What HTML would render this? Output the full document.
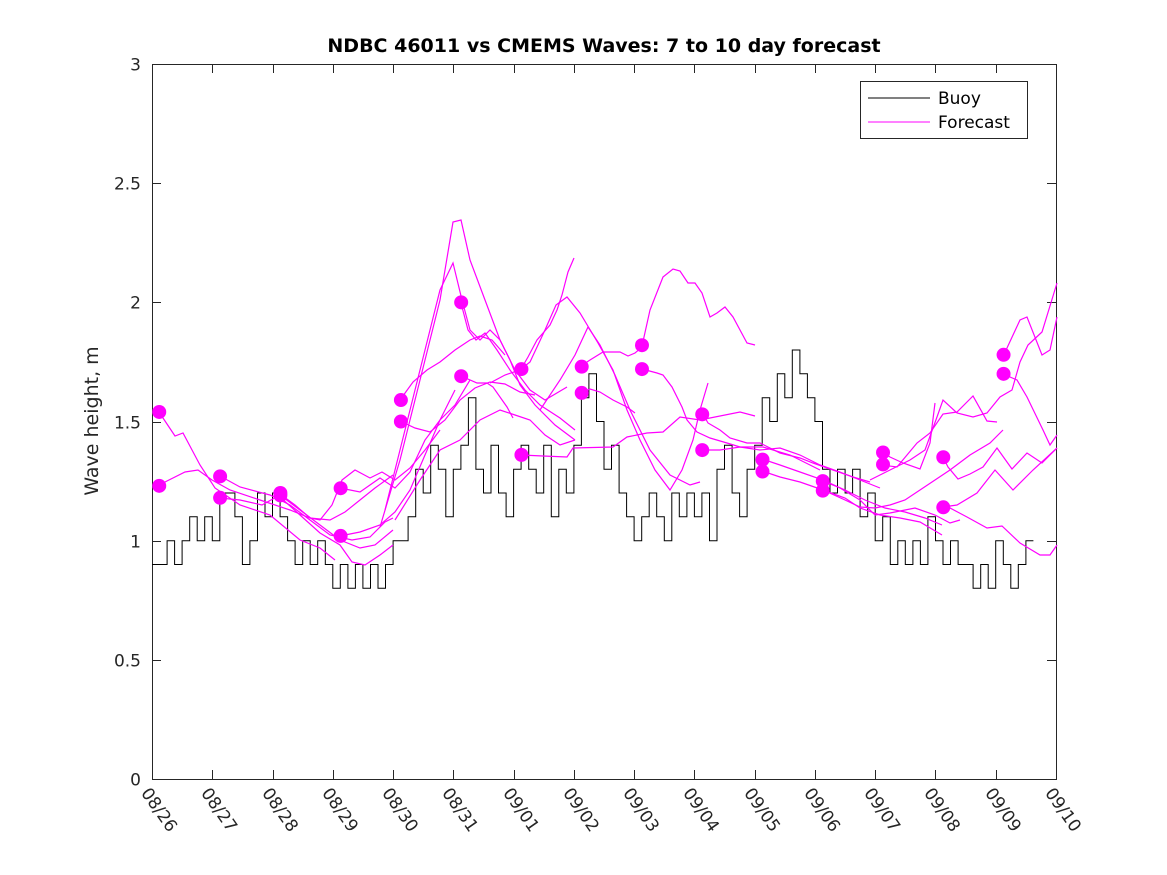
<!DOCTYPE html>
<html><head><meta charset="utf-8"><style>
body{margin:0;background:#fff;}
svg{display:block;font-family:"DejaVu Sans","Liberation Sans",sans-serif;}
</style></head><body>
<svg id="chart" width="1167" height="875" viewBox="0 0 1167 875">
<rect x="0" y="0" width="1167" height="875" fill="#fff"/>
<text x="604" y="52" text-anchor="middle" font-size="19" font-weight="bold" fill="#000">NDBC 46011 vs CMEMS Waves: 7 to 10 day forecast</text>
<text transform="translate(98,421) rotate(-90)" text-anchor="middle" font-size="19" fill="#262626">Wave height, m</text>
<g id="plot"></g>
<g id="legend">
<rect x="860.5" y="81.5" width="167" height="57" fill="#fff" stroke="#262626" stroke-width="1"/>
<line x1="868" y1="98" x2="930" y2="98" stroke="#000" stroke-width="1"/>
<text x="938" y="104" font-size="17" fill="#000">Buoy</text>
<line x1="868" y1="122" x2="930" y2="122" stroke="#f0f" stroke-width="1"/>
<text x="938" y="128" font-size="17" fill="#000">Forecast</text>
</g>
</svg>
<script>
const xTickLabels=["08/26","08/27","08/28","08/29","08/30","08/31","09/01","09/02","09/03","09/04","09/05","09/06","09/07","09/08","09/09","09/10"];
const yTicks=[0,0.5,1,1.5,2,2.5,3];
const yTickLabels=["0","0.5","1","1.5","2","2.5","3"];
// buoy, 3-hourly from 08/26 00:00
const buoy=[0.9,0.9,1.0,0.9,1.0,1.1,1.0,1.1,
1.0,1.2,1.2,1.1,0.9,1.0,1.2,1.1,
1.2,1.1,1.0,0.9,1.0,0.9,1.0,0.9,
0.8,0.9,0.8,0.9,0.8,0.9,0.8,0.9,
1.0,1.0,1.1,1.3,1.2,1.4,1.3,1.1,
1.3,1.4,1.6,1.3,1.2,1.4,1.2,1.1,
1.3,1.4,1.3,1.2,1.4,1.1,1.3,1.2,
1.4,1.6,1.7,1.5,1.3,1.4,1.2,1.1,
1.0,1.1,1.2,1.1,1.0,1.2,1.1,1.2,
1.1,1.2,1.0,1.3,1.4,1.2,1.1,1.3,
1.4,1.6,1.5,1.7,1.6,1.8,1.7,1.6,
1.5,1.3,1.2,1.3,1.2,1.3,1.1,1.2,
1.0,1.1,0.9,1.0,0.9,1.0,0.9,1.1,
1.0,0.9,1.0,0.9,0.9,0.8,0.9,0.8,
1.0,0.9,0.8,0.9,1.0];
const dotDays=[0.12,0.12,1.13,1.13,2.13,2.13,3.13,3.13,4.13,4.13,5.13,5.13,6.13,6.13,7.13,7.13,8.13,8.13,9.13,9.13,10.13,10.13,11.13,11.13,12.13,12.13,13.13,13.13,14.13,14.13];
const dotValues=[1.54,1.23,1.27,1.18,1.19,1.20,1.22,1.02,1.59,1.50,2.00,1.69,1.72,1.36,1.73,1.62,1.82,1.72,1.53,1.38,1.34,1.29,1.25,1.21,1.37,1.32,1.35,1.14,1.78,1.70];
const fcPix=[
[[159,412],[175,436],[183,433],[200,465],[215,488],[240,505],[270,515],[300,540],[320,548],[335,560]],
[[159,485],[185,472],[198,470],[212,480],[230,490],[260,500],[290,510],[310,518],[330,520],[345,512],[360,500],[375,488],[393,475]],
[[220,476],[240,487],[270,495],[290,505],[310,520],[330,535],[352,540],[370,537],[385,522],[393,518]],
[[220,498],[240,500],[262,505],[280,495],[300,510],[320,525],[340,540],[360,548],[375,545],[393,530]],
[[280,494],[295,505],[310,518],[320,520],[332,505],[342,480],[355,470],[370,478],[382,472],[395,480],[410,468],[425,450],[440,430]],
[[280,497],[300,515],[320,533],[340,545],[352,562],[365,565],[380,555],[393,545]],
[[340,488],[360,492],[380,478],[395,488],[410,472],[425,440],[440,420],[455,405],[470,380]],
[[340,536],[360,532],[380,525],[395,512],[410,490],[425,455],[440,420],[455,390]],
[[400,400],[413,382],[427,370],[440,362],[455,350],[470,340],[480,336],[492,340],[505,355]],
[[400,421],[415,428],[430,432],[445,420],[460,400],[475,388],[490,382],[505,384],[520,392],[535,395]],
[[380,527],[400,460],[420,380],[440,300],[453,222],[461,220],[470,260],[485,300],[500,340],[515,370],[530,390],[545,400],[567,387]],
[[385,510],[400,450],[420,370],[440,290],[453,263],[462,300],[470,330],[480,340],[490,330],[500,340],[510,360],[520,385],[535,405],[555,425],[575,440]],
[[461,303],[468,330],[476,340],[485,333],[497,350],[510,370],[525,390],[540,405],[560,418],[575,430]],
[[461,376],[477,383],[487,383],[493,387],[507,407],[513,418]],
[[395,520],[420,480],[440,450],[460,440],[480,420],[500,410],[515,415],[530,420],[545,435],[560,445],[575,440]],
[[521,369],[528,357],[537,340],[550,325],[557,310],[562,295],[568,272],[574,258]],
[[521,455],[543,456],[567,457],[573,448],[613,447],[627,437],[647,433],[663,432],[680,417],[700,420],[740,412],[755,416]],
[[490,383],[505,375],[520,370],[530,362],[545,330],[556,305],[567,297],[580,313],[598,343],[613,370],[627,410],[640,440],[655,470],[670,490],[682,470],[693,440],[700,410],[708,383]],
[[540,410],[560,380],[575,355],[588,327],[600,345],[615,375],[630,410],[650,450],[670,475],[690,485],[700,482]],
[[581,366],[590,360],[603,352],[620,352],[628,356],[635,353],[642,347]],
[[581,393],[590,389],[600,392],[613,400],[627,407],[635,413]],
[[642,346],[650,310],[663,277],[673,269],[680,271],[688,283],[695,283],[702,293],[710,317],[717,313],[725,307],[733,317],[747,343],[755,345]],
[[642,369],[657,373],[663,375],[672,387],[682,407],[687,420],[697,432],[710,438],[727,443],[740,447],[763,447],[790,455],[820,470]],
[[703,414],[708,423],[720,430],[730,438],[747,443],[760,443],[780,453],[800,458],[813,463],[833,470],[853,477],[870,482]],
[[703,450],[720,450],[740,447],[760,450],[780,448],[800,455],[820,465],[840,472],[860,480],[880,488]],
[[762,459],[780,465],[800,472],[823,480],[845,490],[865,500],[885,508],[905,512],[925,518],[942,525]],
[[762,471],[780,477],[800,482],[823,490],[845,498],[860,508],[880,515],[900,518],[920,522],[942,535]],
[[823,481],[840,488],[860,500],[875,515],[890,513],[915,508],[935,515],[950,523],[960,520]],
[[823,490],[845,500],[860,507],[875,508],[890,505],[905,500],[920,490],[935,480],[950,470],[970,455],[990,443],[1003,430]],
[[882,452],[890,457],[903,463],[920,469],[930,443],[935,403]],
[[882,465],[897,467],[917,443],[930,433],[943,414],[957,412],[967,402],[973,396],[987,421],[997,422]],
[[870,480],[890,470],[910,460],[925,450],[937,417],[943,400],[957,413],[973,417],[987,413],[1000,397],[1012,390],[1020,362],[1028,345],[1042,332],[1057,283]],
[[943,457],[948,467],[958,479],[970,474],[983,467],[997,448],[1012,469],[1027,453],[1042,463],[1057,448]],
[[943,507],[950,508],[967,517],[987,528],[1002,526],[1020,543],[1040,555],[1050,555],[1057,545]],
[[943,507],[957,505],[977,493],[995,470],[1013,490],[1033,470],[1057,448]],
[[1003,355],[1007,348],[1020,320],[1027,317],[1042,355],[1050,350],[1057,317]],
[[1003,374],[1017,380],[1027,397],[1043,430],[1050,445],[1057,435]]
];
const X0=152,X1=1056,Y0=779,Y1=64,DAYS=15,YMAX=3;
function xs(d){return X0+d*(X1-X0)/DAYS;}
function ys(v){return Y0-v*(Y0-Y1)/YMAX;}
function dayOfPx(x){return (x-X0)*DAYS/(X1-X0);}
function valOfPx(y){return (Y0-y)*YMAX/(Y0-Y1);}
const forecasts=fcPix.map(l=>l.map(p=>[dayOfPx(p[0]),valOfPx(p[1])]));
const NS="http://www.w3.org/2000/svg";
const plot=document.getElementById('plot');
function mk(t,a){const e=document.createElementNS(NS,t);for(const k in a)e.setAttribute(k,a[k]);plot.appendChild(e);return e;}
let ax=mk('rect',{x:X0+0.5,y:Y1+0.5,width:X1-X0,height:Y0-Y1,fill:'none',stroke:'#262626','stroke-width':1});


yTicks.forEach((v,i)=>{
 const y=Math.round(ys(v))+0.5;
 let t=mk('path',{d:`M${X0} ${y}h9M${X1} ${y}h-9`,stroke:'#262626','stroke-width':1});
 
 
 let l=mk('text',{x:141,y:y+6,'text-anchor':'end','font-size':17,fill:'#262626'});
 l.textContent=yTickLabels[i];
 
 
});
xTickLabels.forEach((s,i)=>{
 const x=Math.round(xs(i))+0.5;
 let t=mk('path',{d:`M${x} ${Y0}v-9M${x} ${Y1}v9`,stroke:'#262626','stroke-width':1});
 
 
 let l=mk('text',{x:0,y:0,'font-size':17,fill:'#262626',transform:`translate(${x-12},${Y0+14}) rotate(55)`});
 l.textContent=s;
 
 
});
// buoy as stepped line
let bd='';
buoy.forEach((v,i)=>{
 const x=xs(i/8).toFixed(1), y=ys(v).toFixed(1), x2=xs((i+1)/8).toFixed(1);
 bd+=(i===0?`M${x} ${y}`:`L${x} ${y}`)+`L${x2} ${y}`;
});
let bl=mk('path',{d:bd,fill:'none',stroke:'#000','stroke-width':1});


forecasts.forEach(f=>{
 let pl=mk('polyline',{points:f.map(p=>`${xs(p[0]).toFixed(1)},${ys(p[1]).toFixed(1)}`).join(' '),fill:'none',stroke:'#f0f','stroke-width':1.2});
 
 
});
dotDays.forEach((d,i)=>{
 let c=mk('circle',{cx:xs(d),cy:ys(dotValues[i]),r:7,fill:'#f0f'});
 
 
});
</script>
</body></html>
